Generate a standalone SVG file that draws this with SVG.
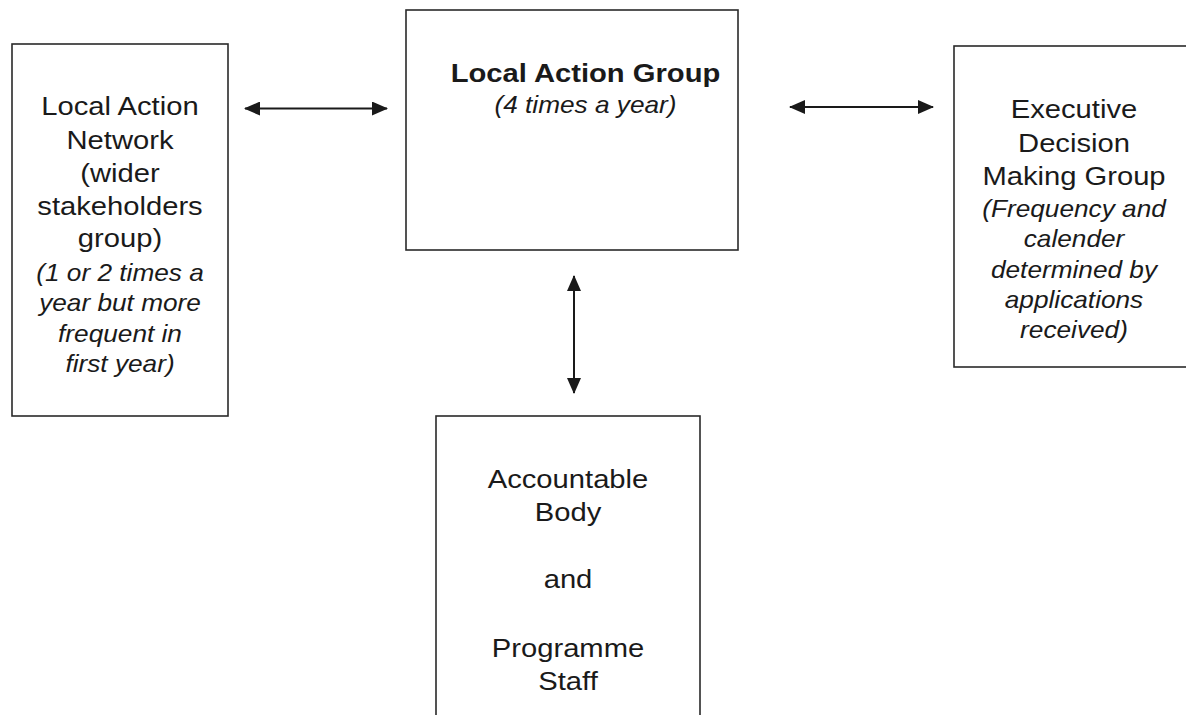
<svg xmlns="http://www.w3.org/2000/svg" width="1186" height="715" viewBox="0 0 1186 715">
<style>
.box{fill:#fff;stroke:#2a2a2a;stroke-width:1.6}
.t{font-family:"Liberation Sans",Arial,sans-serif;font-size:25.6px;fill:#1a1a1a;text-anchor:middle}
.b{font-weight:bold}
.i{font-style:italic;font-size:23px}
.conn{stroke:#1a1a1a;stroke-width:2;fill:none;marker-start:url(#ah);marker-end:url(#ah)}
</style>
<defs>
<marker id="ah" viewBox="0 0 16 14" refX="15" refY="7" markerWidth="16" markerHeight="14" markerUnits="userSpaceOnUse" orient="auto-start-reverse">
<path d="M0,0 L16,7 L0,14 z" fill="#1a1a1a"/>
</marker>
</defs>
<rect width="1186" height="715" fill="#fff"/>
<g id="connectors">
<line class="conn" x1="245" y1="108.5" x2="387" y2="108.5"/>
<line class="conn" x1="790" y1="107" x2="933" y2="107"/>
<line class="conn" x1="574" y1="276" x2="574" y2="393"/>
</g>
<g id="local-action-network">
<rect class="box" x="12" y="44" width="216" height="372"/>
<g transform="translate(120 0) scale(1.14 1)">
<text class="t" x="0" y="115">Local Action</text>
<text class="t" x="0" y="149">Network</text>
<text class="t" x="0" y="182.5">(wider</text>
<text class="t" x="0" y="215.5">stakeholders</text>
<text class="t" x="0" y="247">group)</text>
<text class="t i" x="0" y="281">(1 or 2 times a</text>
<text class="t i" x="0" y="311.5">year but more</text>
<text class="t i" x="0" y="342">frequent in</text>
<text class="t i" x="0" y="372.5">first year)</text>
</g>
</g>
<g id="local-action-group">
<rect class="box" x="406" y="10" width="332" height="240"/>
<g transform="translate(585.5 0) scale(1.14 1)">
<text class="t b" x="0" y="82">Local Action Group</text>
<text class="t i" x="0" y="113.5">(4 times a year)</text>
</g>
</g>
<g id="executive-decision-making-group">
<rect class="box" x="954" y="46" width="250" height="321"/>
<g transform="translate(1074 0) scale(1.14 1)">
<text class="t" x="0" y="118.5">Executive</text>
<text class="t" x="0" y="152">Decision</text>
<text class="t" x="0" y="185">Making Group</text>
<text class="t i" x="0" y="217">(Frequency and</text>
<text class="t i" x="0" y="247">calender</text>
<text class="t i" x="0" y="278">determined by</text>
<text class="t i" x="0" y="308.5">applications</text>
<text class="t i" x="0" y="338.5">received)</text>
</g>
</g>
<g id="accountable-body">
<rect class="box" x="436" y="416" width="264" height="320"/>
<g transform="translate(568 0) scale(1.14 1)">
<text class="t" x="0" y="488">Accountable</text>
<text class="t" x="0" y="521">Body</text>
<text class="t" x="0" y="588.5">and</text>
<text class="t" x="0" y="657">Programme</text>
<text class="t" x="0" y="690">Staff</text>
</g>
</g>
</svg>
